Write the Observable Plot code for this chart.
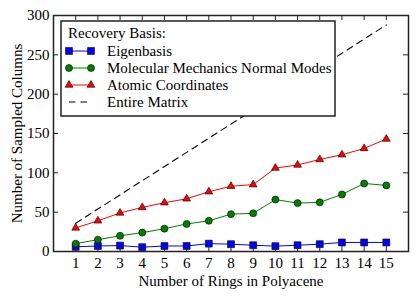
<!DOCTYPE html>
<html><head><meta charset="utf-8">
<script src="https://cdn.jsdelivr.net/npm/d3@7"></script>
<script src="https://cdn.jsdelivr.net/npm/@observablehq/plot@0.6"></script>
<style>
body{margin:0;background:#fff;}
#wrap{position:relative;width:415px;height:296px;}
#legend{position:absolute;left:0;top:0;}
</style></head><body><div id="wrap"></div>
<script>
const rings = [1,2,3,4,5,6,7,8,9,10,11,12,13,14,15];
const eigenbasis = [6,7,7.5,5.5,7,7,10,9.3,8,6.8,8,9.3,11.5,11.5,11.5];
const molecularModes = [10,15,20,24,29,35,39,47.5,48.5,66,61.5,62.5,72.5,86.5,84];
const atomicCoords = [30,39,49,56,62,67,76,83,85,106,110,117,123,131,143];
const entireMatrix = [36,54,72,90,108,126,144,162,180,198,216,234,252,270,288];
const xTicks = [1,2,3,4,5,6,7,8,9,10,11,12,13,14,15];
const yTicks = [0,50,100,150,200,250,300];
const legendTitle = "Recovery Basis:";
const seriesNames = ["Eigenbasis","Molecular Mechanics Normal Modes","Atomic Coordinates","Entire Matrix"];
const seriesColors = ["#0000ff","#008000","#ff0000","#000000"];
const seriesSymbols = ["square","circle","triangle",null];
const seriesRadius = [3.9,3.5,2.9,0];
const xLabel = "Number of Rings in Polyacene";
const yLabel = "Number of Sampled Columns";

const FONT="Liberation Serif";
const W=415,H=296,mL=53,mR=7,mT=15,mB=45;
const plotW=W-mL-mR, plotH=H-mT-mB;
const seriesValues=[eigenbasis,molecularModes,atomicCoords,entireMatrix];
const rows=[];
seriesValues.forEach((vals,i)=>vals.forEach((v,j)=>rows.push({x:rings[j],y:v,s:seriesNames[i]})));
const bySeries=name=>rows.filter(r=>r.s===name);

const marks=[
  Plot.line(bySeries(seriesNames[3]),{x:"x",y:"y",stroke:"#000",strokeWidth:1.1,strokeDasharray:"6.5,5"})
];
for(let i=0;i<3;i++){
  marks.push(Plot.line(bySeries(seriesNames[i]),{x:"x",y:"y",stroke:seriesColors[i],strokeWidth:1}));
  marks.push(Plot.dot(bySeries(seriesNames[i]),{x:"x",y:"y",symbol:()=>seriesSymbols[i],r:seriesRadius[i],fill:seriesColors[i],stroke:"#000",strokeWidth:0.6}));
}
marks.push(
  Plot.axisX(xTicks,{tickSize:0,tickPadding:6,fontSize:15,fontFamily:FONT,tickFormat:d=>String(d),label:null}),
  Plot.axisX({tickSize:0,ticks:[],label:xLabel,labelAnchor:"center",labelOffset:34,labelArrow:"none",fontSize:15,fontFamily:FONT}),
  Plot.axisY(yTicks,{tickSize:0,tickPadding:4,fontSize:15,fontFamily:FONT,tickFormat:d=>String(d),label:null}),
  Plot.axisY({tickSize:0,ticks:[],label:yLabel,labelAnchor:"center",labelOffset:42,labelArrow:"none",fontSize:15,fontFamily:FONT}),
  Plot.tickX(xTicks,{x:d=>d,insetTop:plotH-5,stroke:"#222"}),
  Plot.tickX(xTicks,{x:d=>d,insetBottom:plotH-5,stroke:"#222"}),
  Plot.tickY(yTicks,{y:d=>d,insetRight:plotW-5,stroke:"#222"}),
  Plot.tickY(yTicks,{y:d=>d,insetLeft:plotW-5,stroke:"#222"}),
  Plot.frame({stroke:"#222",strokeWidth:1.5})
);

const chart=Plot.plot({
  width:W,height:H,marginLeft:mL,marginRight:mR,marginTop:mT,marginBottom:mB,
  style:{fontSize:"15px",background:"#fff",color:"#000"},
  x:{domain:[0,16]},
  y:{domain:[0,300]},
  marks
});
d3.select(chart).attr("font-family",FONT).style("font-family",FONT);
d3.select(chart).selectAll("text").attr("font-family",FONT).style("font-family",FONT);
const wrap=document.getElementById("wrap");
wrap.appendChild(chart);

// Legend overlay
const lg=d3.select(wrap).append("svg").attr("id","legend").attr("width",W).attr("height",H)
  .attr("font-family",FONT);
const bx=61,by=21,bw=274,bh=95;
lg.append("rect").attr("x",bx).attr("y",by).attr("width",bw).attr("height",bh)
  .attr("fill","#fff").attr("stroke","#222").attr("stroke-width",1.5);
lg.append("text").attr("x",68).attr("y",38).attr("font-size",15).attr("font-family",FONT).text(legendTitle);
const symMap={square:d3.symbolSquare,circle:d3.symbolCircle,triangle:d3.symbolTriangle};
seriesNames.forEach((name,i)=>{
  const cy=51+i*17;
  const g=lg.append("g");
  g.append("line").attr("x1",69).attr("x2",91).attr("y1",cy).attr("y2",cy)
    .attr("stroke",seriesColors[i]).attr("stroke-width",i===3?1.1:1)
    .attr("stroke-dasharray",i===3?"6.5,5":null);
  if(seriesSymbols[i]){
    const r=seriesRadius[i];
    const p=d3.symbol(symMap[seriesSymbols[i]],Math.PI*r*r)();
    [69,91].forEach(x=>g.append("path").attr("d",p).attr("transform",`translate(${x},${cy})`)
      .attr("fill",seriesColors[i]).attr("stroke","#000").attr("stroke-width",0.6));
  }
  g.append("text").attr("x",107).attr("y",cy+5).attr("font-size",15).attr("font-family",FONT).text(name);
});
</script></body></html>
